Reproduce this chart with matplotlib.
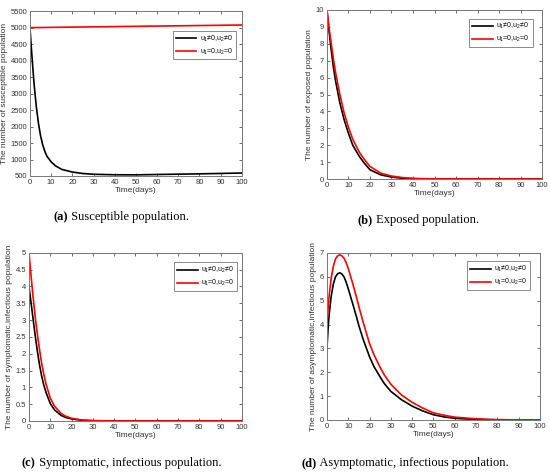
import numpy as np
import matplotlib
matplotlib.use('Agg')
import matplotlib.pyplot as plt
from matplotlib.ticker import FormatStrFormatter, MultipleLocator

# Susceptible
t_s = [0, 0.5, 1, 1.5, 2, 3, 4, 5, 6, 7, 8, 10, 12, 15, 20, 25, 30, 40, 50, 60, 70, 80, 90, 100]
s_ctrl = [5000, 4520, 4080, 3650, 3250, 2600, 2100, 1720, 1450, 1250, 1100, 930, 810, 700,
          620, 575, 552, 537, 535, 545, 555, 565, 577, 590]
t_s_red = [0, 50, 100]
s_none = [5000, 5040, 5080]

# Exposed
t_e = [0, 1, 2, 3, 4, 6, 8, 10, 12, 15, 17, 20, 25, 30, 35, 40, 50, 60, 100]
e_ctrl = [10, 8.7, 7.6, 6.6, 5.8, 4.5, 3.5, 2.7, 2.0, 1.35, 1.0, 0.55, 0.25, 0.12, 0.05,
          0.02, 0.005, 0, 0]
e_none = [10, 8.9, 8.0, 7.1, 6.3, 5.0, 3.9, 3.05, 2.35, 1.6, 1.22, 0.75, 0.35, 0.18, 0.09,
          0.04, 0.01, 0, 0]

# Symptomatic infectious
t_i = [0, 1, 2, 3, 4, 5, 6, 7, 8, 10, 12, 15, 17, 20, 25, 30, 40, 100]
i_ctrl = [4.0, 3.5, 3.0, 2.5, 2.05, 1.65, 1.32, 1.06, 0.85, 0.52, 0.33, 0.17, 0.11, 0.06,
          0.02, 0.008, 0, 0]
i_none = [5.0, 4.3, 3.65, 3.05, 2.55, 2.1, 1.7, 1.38, 1.1, 0.68, 0.44, 0.23, 0.15, 0.08,
          0.03, 0.01, 0, 0]

# Asymptomatic infectious
t_a = [0, 0.5, 1, 2, 3, 4, 5, 6, 7, 8, 9, 10, 12, 14, 15, 17, 20, 22, 25, 27, 30, 35, 40, 45,
       50, 55, 60, 70, 80, 90, 100]
a_ctrl = [3.0, 3.8, 4.4, 5.2, 5.7, 6.0, 6.13, 6.17, 6.12, 6.0, 5.78, 5.5, 4.9, 4.28, 3.95,
          3.38, 2.65, 2.25, 1.8, 1.52, 1.2, 0.85, 0.58, 0.38, 0.22, 0.13, 0.07, 0.02, 0.005,
          0, 0]
a_none = [4.0, 4.65, 5.2, 5.95, 6.45, 6.75, 6.88, 6.92, 6.88, 6.78, 6.6, 6.35, 5.75, 5.1,
          4.75, 4.1, 3.2, 2.75, 2.2, 1.88, 1.5, 1.05, 0.74, 0.5, 0.3, 0.2, 0.12, 0.05, 0.015,
          0.005, 0]

lab_ctrl = 'u$_1$≠0,u$_2$≠0'
lab_none = 'u$_1$=0,u$_2$=0'

plt.rcParams['font.family'] = ['Liberation Sans', 'DejaVu Sans']
plt.rcParams['mathtext.fontset'] = 'custom'
plt.rcParams['mathtext.rm'] = 'Liberation Sans'
plt.rcParams['mathtext.it'] = 'Liberation Sans'

fig = plt.figure(figsize=(5.5, 4.75), dpi=100)

panels = [
    # rect, x1, y1, x2, y2, ylim, ystep, ylabel, legend anchor
    ([0.0545, 0.6295, 0.385, 0.347], t_s, s_ctrl, t_s_red, s_none, (500, 5500), 500,
     'The number of susceptible population', (0.99, 0.903)),
    ([0.5945, 0.623, 0.391, 0.356], t_e, e_ctrl, t_e, e_none, (0, 10), 1,
     'The number of exposed population', (0.972, 0.97)),
    ([0.0527, 0.1137, 0.387, 0.354], t_i, i_ctrl, t_i, i_none, (0, 5), 0.5,
     'The number of symptomatic,infectious population', (0.995, 0.964)),
    ([0.5945, 0.1158, 0.387, 0.3516], t_a, a_ctrl, t_a, a_none, (0, 7), 1,
     'The number of asymptomatic,infectious population', (0.972, 0.97)),
]

for rect, x1, y1, x2, y2, ylim, ystep, ylabel, anchor in panels:
    ax = fig.add_axes(rect)
    ax.plot(x1, y1, color='black', lw=1.2, label=lab_ctrl)
    ax.plot(x2, y2, color='#ff0000', lw=1.2, label=lab_none)
    ax.set_xlim(0, 100)
    ax.set_ylim(*ylim)
    ax.xaxis.set_major_locator(MultipleLocator(10))
    ax.yaxis.set_major_locator(MultipleLocator(ystep))
    ax.yaxis.set_major_formatter(FormatStrFormatter('%g'))
    ax.tick_params(direction='in', top=True, right=True, length=2.5, width=0.6,
                   labelsize=5.5, colors='#555555', labelcolor='#333333', pad=2)
    for sp in ax.spines.values():
        sp.set_color('#777777')
        sp.set_linewidth(0.7)
    ax.set_xlabel('Time(days)', fontsize=6, color='#333333', labelpad=1)
    ax.set_ylabel(ylabel, fontsize=6, color='#333333', labelpad=2)
    leg = ax.legend(loc='upper right', bbox_to_anchor=anchor, fontsize=5, frameon=True,
                    fancybox=False, edgecolor='#555555', handlelength=3.0,
                    borderpad=0.4, labelspacing=0.4, handletextpad=0.5)
    leg.get_frame().set_linewidth(0.6)

captions = [
    (54, 217, 'a', 'Susceptible population.'),
    (358, 220, 'b', 'Exposed population.'),
    (22, 463, 'c', 'Symptomatic, infectious population.'),
    (302, 463, 'd', 'Asymptomatic, infectious population.'),
]
for px, py, letter, rest in captions:
    t1 = fig.text(px / 550, 1 - py / 475, '(' + letter + ')', fontsize=9,
                  fontweight='bold', family='Liberation Serif', va='center')
    plt.annotate(' ' + rest, xy=(1, 0.5), xycoords=t1, va='center', ha='left',
                 fontsize=9, family='Liberation Serif', annotation_clip=False)

fig.savefig('out.png', dpi=100)
